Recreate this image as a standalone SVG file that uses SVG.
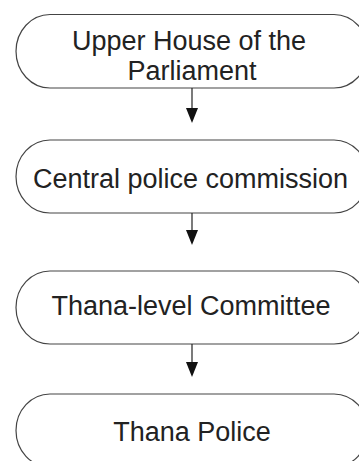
<svg xmlns="http://www.w3.org/2000/svg" width="359" height="461" viewBox="0 0 359 461">
<defs>
<style>
.box{fill:#fff;stroke:#444;stroke-width:1.2}
.t{font-family:"Liberation Sans",Arial,sans-serif;font-size:27px;fill:#222;text-anchor:middle}
.ln{stroke:#222;stroke-width:1.2;fill:none}
.hd{fill:#111}
</style>
</defs>
<rect width="359" height="461" fill="#fff"/>
<g id="n1">
<path class="box" d="M50,14.5 H334 A34,36.75 0 0 1 334,88 H50 A34,36.75 0 0 1 50,14.5 Z"/>
<text class="t" x="189" y="50">Upper House of the</text>
<text class="t" x="192" y="80">Parliament</text>
</g>
<g id="n2">
<path class="box" d="M50,140 H334 A34,36.5 0 0 1 334,213 H50 A34,36.5 0 0 1 50,140 Z"/>
<text class="t" x="190.5" y="188">Central police commission</text>
</g>
<g id="n3">
<path class="box" d="M50,271 H334 A34,36.5 0 0 1 334,344 H50 A34,36.5 0 0 1 50,271 Z"/>
<text class="t" x="191" y="315">Thana-level Committee</text>
</g>
<g id="n4">
<path class="box" d="M50,394 H334 A34,36.5 0 0 1 334,467 H50 A34,36.5 0 0 1 50,394 Z"/>
<text class="t" x="192" y="441">Thana Police</text>
</g>
<g id="connectors">
<line class="ln" x1="192" y1="88" x2="192" y2="110"/>
<polygon class="hd" points="186,108 198,108 192,123"/>
<line class="ln" x1="192" y1="213" x2="192" y2="232"/>
<polygon class="hd" points="186,230 198,230 192,245"/>
<line class="ln" x1="192" y1="344" x2="192" y2="364"/>
<polygon class="hd" points="186,362 198,362 192,377"/>
</g>
</svg>
